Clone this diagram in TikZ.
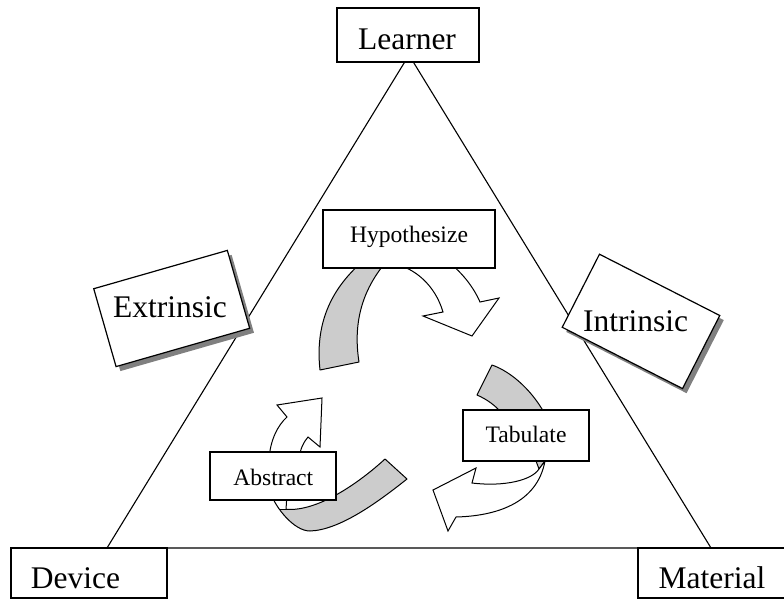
\documentclass[tikz,border=0pt]{standalone}
\usepackage{fontspec}
\setmainfont{Liberation Serif}
\definecolor{bandgray}{gray}{0.8}
\definecolor{shadowgray}{gray}{0.5}
\begin{document}
\begin{tikzpicture}[x=1pt,y=-1pt,
  box/.style={draw, fill=white, line width=1.2pt, inner sep=0pt},
  sbox/.style={fill=shadowgray, inner sep=0pt},
  big/.style={font=\fontsize{31.5}{36}\selectfont, inner sep=0pt, anchor=base},
  small/.style={font=\fontsize{23.6}{28}\selectfont, inner sep=0pt, anchor=base},
  band/.style={draw, fill=bandgray, line width=1pt, line join=round},
  front/.style={draw, fill=white, line width=1pt, line join=miter},
  tri/.style={line width=1.1pt}]
\useasboundingbox (0,0) rectangle (784,602);

% triangle
\coordinate (apex) at (409,55);
\coordinate (bl) at (107,548);
\coordinate (br) at (711,548);
\draw[tri] (bl) -- (apex) -- (br) -- cycle;

% ---- top arrow (Hypothesize)
\draw[band] (320,370) -- (359,362)
  .. controls (354,330) and (358,295) .. (386,262)
  -- (362,262)
  .. controls (330,290) and (315,325) .. (320,370) -- cycle;
\draw[front] (392,263) .. controls (415,268) and (435,285) .. (443,312)
  -- (423,316) -- (472,336) -- (499,298) -- (480,302)
  .. controls (474,288) and (462,272) .. (448,262) -- cycle;

% ---- right arrow (Tabulate)
\draw[band] (477,395) -- (492,365)
  .. controls (512,372) and (534,392) .. (547,418)
  -- (506,418)
  .. controls (496,405) and (486,399) .. (477,395) -- cycle;
\draw[band] (535,452) -- (536,461) -- (539,469) -- (545,461) -- (547,452) -- cycle;
\draw[front] (539,469) .. controls (532,480) and (505,487) .. (472,483)
  -- (476,468) -- (433,490) -- (448,531) -- (456,517)
  .. controls (495,516) and (537,504) .. (545,461) -- cycle;

% ---- left arrow (Abstract)
\path[fill=bandgray] (385,459) -- (407,479)
  .. controls (378,502) and (340,530) .. (310,531)
  .. controls (294,531) and (276,508) .. (271,494)
  -- (287,494) -- (286,509.3)
  .. controls (318,512) and (360,482) .. (385,459) -- cycle;
\fill[white] (266,494) rectangle (286,509.3);
\draw[line width=1pt, line join=round] (385,459) -- (407,479)
  .. controls (378,502) and (340,530) .. (310,531)
  .. controls (294,531) and (276,508) .. (271,494)
  -- (287,494) -- (286,509.3)
  .. controls (318,512) and (360,482) .. (385,459) -- cycle;
\draw[line width=1pt] (278.5,509.3) -- (286,509.3);
\draw[front] (269,460) .. controls (270,440) and (278,425) .. (287,417)
  -- (277,405) -- (322,398) -- (320,447) -- (308,437)
  .. controls (304,442) and (300,448) .. (299,460) -- cycle;

% ---- boxes
\node[sbox, rotate=16, minimum width=139pt, minimum height=81pt] (extshadow) at (176,313) {};
\node[sbox, rotate=-27, minimum width=135pt, minimum height=82pt] (intshadow) at (645,326) {};
\node[box, rotate=16, minimum width=139pt, minimum height=81pt] (ext) at (171.7,308.5) {};
\node[box, rotate=-27, minimum width=135pt, minimum height=82pt] (int) at (641,321.4) {};

\node[box, minimum width=142pt, minimum height=54pt] (learner) at (408,35) {};
\node[box, minimum width=156pt, minimum height=50pt] (device) at (89,573) {};
\node[box, minimum width=152pt, minimum height=50pt] (material) at (714,573) {};
\node[box, minimum width=172pt, minimum height=58pt] (hyp) at (409,239) {};
\node[box, minimum width=126pt, minimum height=51pt] (tab) at (526,435.5) {};
\node[box, minimum width=126pt, minimum height=48pt] (abs) at (273,476) {};

% ---- texts
\node[big] (learnertxt) at (407,50) {Learner};
\node[big] (devicetxt) at (75.5,588.5) {Device};
\node[big] (materialtxt) at (712,588.5) {Material};
\node[big] (exttxt) at (170,317.3) {Extrinsic};
\node[big] (inttxt) at (635.5,331.7) {Intrinsic};
\node[small] (hyptxt) at (409,242.7) {Hypothesize};
\node[small] (tabtxt) at (526,442.7) {Tabulate};
\node[small] (abstxt) at (273.3,485) {Abstract};
\end{tikzpicture}
\end{document}
